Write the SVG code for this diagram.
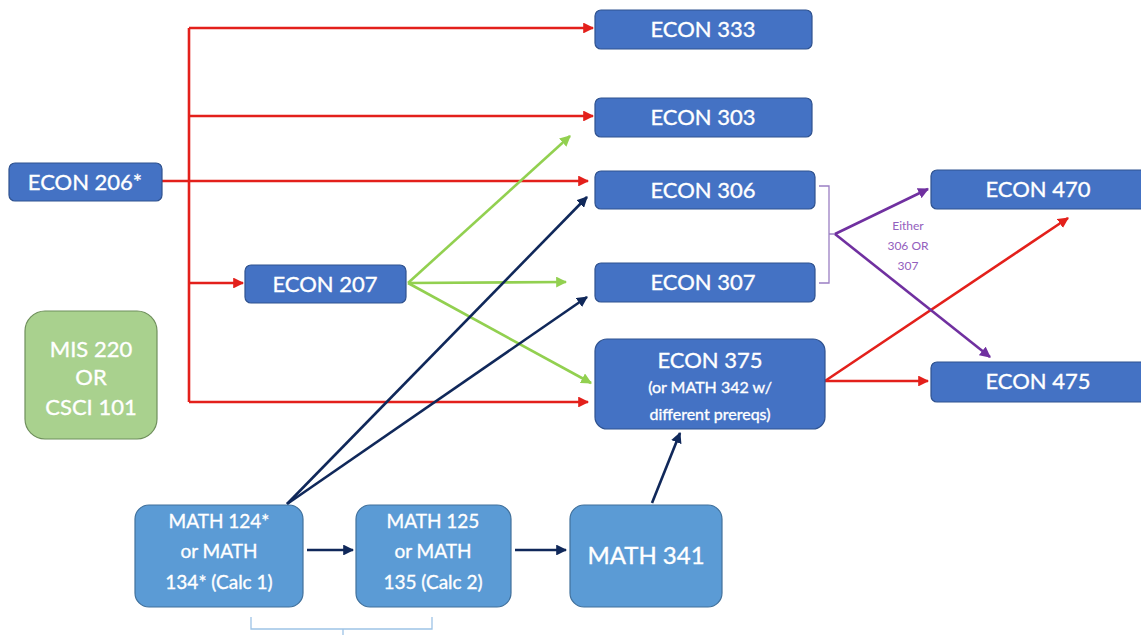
<svg xmlns="http://www.w3.org/2000/svg" width="1141" height="635" viewBox="0 0 1141 635">
<style>
.econ{fill:#4472c4;stroke:#2f528f;stroke-width:1.2}
.math{fill:#5b9bd5;stroke:#41719c;stroke-width:1.2}
.mis{fill:#a9d18e;stroke:#6f8f5c;stroke-width:1.2}
text{font-family:Lato,"Open Sans","Liberation Sans",sans-serif;fill:#ffffff;stroke:#ffffff;stroke-width:0.35;text-anchor:middle}
.t22{font-size:22px}
.t16{font-size:16px}
.t19{font-size:19px}
.red{stroke:#e3201b;stroke-width:2.6;fill:none}
.grn{stroke:#92d050;stroke-width:2.6;fill:none}
.nav{stroke:#10285a;stroke-width:2.6;fill:none}
.pur{stroke:#7030a0;stroke-width:2.6;fill:none}
.brk{stroke:#9b7fc3;stroke-width:1.3;fill:none}
.brkb{stroke:#9dc3e6;stroke-width:1.3;fill:none}
.eth{font-size:12px;fill:#9360bd;stroke:none}
</style>
<defs>
<marker id="ar" viewBox="0 0 10 10" refX="9" refY="5" markerWidth="4.2" markerHeight="4.2" orient="auto" markerUnits="strokeWidth"><path d="M0,0 L10,5 L0,10 z" fill="#e3201b"/></marker>
<marker id="ag" viewBox="0 0 10 10" refX="9" refY="5" markerWidth="4.2" markerHeight="4.2" orient="auto" markerUnits="strokeWidth"><path d="M0,0 L10,5 L0,10 z" fill="#92d050"/></marker>
<marker id="an" viewBox="0 0 10 10" refX="9" refY="5" markerWidth="4.2" markerHeight="4.2" orient="auto" markerUnits="strokeWidth"><path d="M0,0 L10,5 L0,10 z" fill="#10285a"/></marker>
<marker id="ap" viewBox="0 0 10 10" refX="9" refY="5" markerWidth="4.2" markerHeight="4.2" orient="auto" markerUnits="strokeWidth"><path d="M0,0 L10,5 L0,10 z" fill="#7030a0"/></marker>
</defs>
<g id="connectors">
<path class="red" d="M189,28 V402"/>
<path class="red" d="M189,28 H593" marker-end="url(#ar)"/>
<path class="red" d="M189,116 H593" marker-end="url(#ar)"/>
<path class="red" d="M162,181 H588" marker-end="url(#ar)"/>
<path class="red" d="M189,283 H243" marker-end="url(#ar)"/>
<path class="red" d="M189,402 H588" marker-end="url(#ar)"/>
<path class="red" d="M825,381 L1068,218" marker-end="url(#ar)"/>
<path class="red" d="M825,381 H928" marker-end="url(#ar)"/>
<path class="grn" d="M408,283 L570,136" marker-end="url(#ag)"/>
<path class="grn" d="M408,283 L566,282" marker-end="url(#ag)"/>
<path class="grn" d="M408,283 L591,383" marker-end="url(#ag)"/>
<path class="nav" d="M287,504 L587,197" marker-end="url(#an)"/>
<path class="nav" d="M287,504 L587,297" marker-end="url(#an)"/>
<path class="nav" d="M652,503 L680,433" marker-end="url(#an)"/>
<path class="nav" d="M307,550 H353" marker-end="url(#an)"/>
<path class="nav" d="M515,550 H566" marker-end="url(#an)"/>
<path class="brk" d="M819,186 H829 V283 H819 M829,234 H835"/>
<path class="pur" d="M835,234 L928,189" marker-end="url(#ap)"/>
<path class="pur" d="M835,234 L990,357" marker-end="url(#ap)"/>
<path class="brkb" d="M251,617 V629 H432 V617 M343,629 V635"/>
</g>
<g id="econ206"><rect class="econ" x="9" y="163" width="153" height="38" rx="6"/><text class="t22" x="85" y="190">ECON 206*</text></g>
<g id="econ207"><rect class="econ" x="245" y="265" width="161" height="38" rx="6"/><text class="t22" x="325" y="292">ECON 207</text></g>
<g id="mis220"><rect class="mis" x="25" y="311" width="132" height="128" rx="20"/><text class="t22" x="91" y="357">MIS 220</text><text class="t22" x="91" y="385">OR</text><text class="t22" x="91" y="415">CSCI 101</text></g>
<g id="econ333"><rect class="econ" x="595" y="10" width="217" height="39" rx="6"/><text class="t22" x="703" y="37">ECON 333</text></g>
<g id="econ303"><rect class="econ" x="595" y="98" width="217" height="39" rx="6"/><text class="t22" x="703" y="125">ECON 303</text></g>
<g id="econ306"><rect class="econ" x="595" y="171" width="220" height="38" rx="6"/><text class="t22" x="703" y="198">ECON 306</text></g>
<g id="econ307"><rect class="econ" x="595" y="263" width="220" height="39" rx="6"/><text class="t22" x="703" y="290">ECON 307</text></g>
<g id="econ375"><rect class="econ" x="595" y="339" width="230" height="90" rx="12"/><text class="t22" x="710" y="368">ECON 375</text><text class="t16" x="710" y="393">(or MATH 342 w/</text><text class="t16" x="710" y="420">different prereqs)</text></g>
<g id="econ470"><rect class="econ" x="931" y="170" width="220" height="39" rx="6"/><text class="t22" x="1038" y="197">ECON 470</text></g>
<g id="econ475"><rect class="econ" x="931" y="362" width="220" height="40" rx="6"/><text class="t22" x="1038" y="389">ECON 475</text></g>
<g id="either"><text class="eth" x="908" y="230">Either</text><text class="eth" x="908" y="250">306 OR</text><text class="eth" x="908" y="270">307</text></g>
<g id="math124"><rect class="math" x="135" y="505" width="168" height="102" rx="14"/><text class="t19" x="219" y="528">MATH 124*</text><text class="t19" x="219" y="558">or MATH</text><text class="t19" x="219" y="589">134* (Calc 1)</text></g>
<g id="math125"><rect class="math" x="356" y="505" width="155" height="102" rx="14"/><text class="t19" x="433" y="528">MATH 125</text><text class="t19" x="433" y="558">or MATH</text><text class="t19" x="433" y="589">135 (Calc 2)</text></g>
<g id="math341"><rect class="math" x="570" y="505" width="152" height="102" rx="14"/><text x="646" y="564" style="font-size:24px">MATH 341</text></g>
</svg>
